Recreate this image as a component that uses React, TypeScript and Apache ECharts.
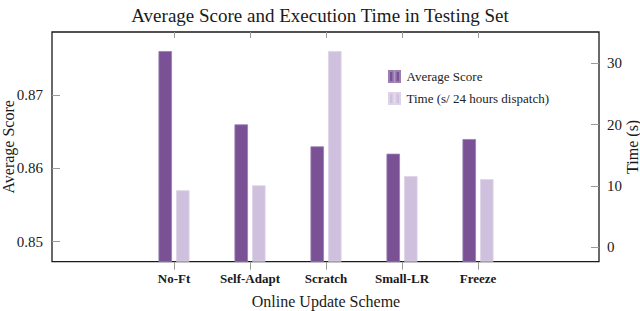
import React, { useEffect, useRef } from "react";
import * as echarts from "echarts";

const categories = ["No-Ft", "Self-Adapt", "Scratch", "Small-LR", "Freeze"];
const avgScore = [0.876, 0.866, 0.863, 0.862, 0.864];
const timeSec = [9.3, 10.1, 32.0, 11.6, 11.1];
const scoreTicks = [0.85, 0.86, 0.87];
const timeTicks = [0, 10, 20, 30];

const SERIF = "'Liberation Serif', 'DejaVu Serif', serif";
const SCORE_MIN = 0.84727;
const SCORE_MAX = 0.8786;
const TIME_MIN = -2.35;
const TIME_MAX = 35.1;

export default function App() {
  const ref = useRef<HTMLDivElement>(null);
  useEffect(() => {
    if (!ref.current) return;
    const chart = echarts.init(ref.current, null, { renderer: "svg" });
    const tickStyle = { color: "#9a9a9a", width: 1 };
    // bars of the time series rise from the bottom of the frame (pgfplots style),
    // so the hidden bar axis is the visible time axis shifted to start at its minimum
    const timeFromBottom = timeSec.map((v) => v - TIME_MIN);
    const option: any = {
      animation: false,
      backgroundColor: "#ffffff",
      textStyle: { fontFamily: SERIF },
      title: {
        text: "Average Score and Execution Time in Testing Set",
        left: "center",
        top: 1,
        textStyle: { fontFamily: SERIF, fontSize: 19, fontWeight: "normal", color: "#1a1a1a" },
      },
      legend: {
        data: ["Average Score", "Time (s/ 24 hours dispatch)"],
        orient: "vertical",
        left: 383,
        top: 65,
        itemGap: 9,
        itemWidth: 14,
        itemHeight: 11,
        icon: "path://M0,0h4v10h-4z M6,0h4v10h-4z",
        textStyle: { fontFamily: SERIF, fontSize: 13, color: "#222" },
      },
      grid: [
        { left: 52, top: 32, width: 547, height: 229.7, show: true, borderColor: "#1a1a1a", borderWidth: 1.3, backgroundColor: "transparent", outerBoundsMode: "none", containLabel: false },
        { left: 136, top: 32, width: 380, height: 229.7, outerBoundsMode: "none", containLabel: false },
      ],
      xAxis: [
        { type: "value", gridIndex: 0, min: 0, max: 1, show: false },
        {
          type: "category",
          gridIndex: 1,
          data: categories,
          position: "bottom",
          axisLine: { show: false },
          axisTick: { show: true, alignWithLabel: true, inside: false, length: 8, lineStyle: tickStyle },
          axisLabel: { interval: 0, fontFamily: SERIF, fontSize: 13, fontWeight: "bold", color: "#1a1a1a", margin: 10 },
          name: "Online Update Scheme",
          nameLocation: "middle",
          nameGap: 32,
          nameMoveOverlap: false,
          nameTextStyle: { fontFamily: SERIF, fontSize: 16, color: "#1a1a1a" },
        },
        {
          type: "category",
          gridIndex: 1,
          data: categories,
          position: "top",
          axisLine: { show: false },
          axisTick: { show: true, alignWithLabel: true, inside: true, length: 6, lineStyle: tickStyle },
          axisLabel: { show: false },
        },
      ],
      yAxis: [
        {
          type: "value",
          gridIndex: 0,
          position: "left",
          min: SCORE_MIN,
          max: SCORE_MAX,
          splitLine: { show: false },
          axisLine: { show: false },
          axisTick: { show: true, inside: true, length: 8, lineStyle: tickStyle, customValues: scoreTicks },
          axisLabel: {
            customValues: scoreTicks,
            formatter: (v: number) => v.toFixed(2),
            fontFamily: SERIF,
            fontSize: 15,
            color: "#1a1a1a",
            margin: 9,
            padding: [0, 0, 9, 0],
          },
          name: "Average Score",
          nameLocation: "middle",
          nameGap: 36,
          nameMoveOverlap: false,
          nameTextStyle: { fontFamily: SERIF, fontSize: 16, lineHeight: 15, color: "#1a1a1a" },
        },
        {
          type: "value",
          gridIndex: 0,
          position: "right",
          min: TIME_MIN,
          max: TIME_MAX,
          splitLine: { show: false },
          axisLine: { show: false },
          axisTick: { show: true, inside: true, length: 8, lineStyle: tickStyle, customValues: timeTicks },
          axisLabel: {
            customValues: timeTicks,
            fontFamily: SERIF,
            fontSize: 15,
            color: "#1a1a1a",
            margin: 8,
            padding: [0, 0, 9, 0],
          },
          name: "Time (s)",
          nameLocation: "middle",
          nameGap: 26,
          nameMoveOverlap: false,
          nameTextStyle: { fontFamily: SERIF, fontSize: 16, lineHeight: 15, color: "#1a1a1a" },
        },
        { type: "value", gridIndex: 1, min: SCORE_MIN, max: SCORE_MAX, show: false, splitLine: { show: false } },
        { type: "value", gridIndex: 1, min: 0, max: TIME_MAX - TIME_MIN, show: false, splitLine: { show: false } },
      ],
      series: [
        {
          name: "Average Score",
          type: "bar",
          xAxisIndex: 1,
          yAxisIndex: 2,
          data: avgScore,
          barWidth: 13.5,
          barGap: "30%",
          itemStyle: { color: "#7a5195", borderColor: "#9b7fb1", borderWidth: 0.8 },
        },
        {
          name: "Time (s/ 24 hours dispatch)",
          type: "bar",
          xAxisIndex: 1,
          yAxisIndex: 3,
          data: timeFromBottom,
          barWidth: 13.5,
          barGap: "30%",
          itemStyle: { color: "#cfc1dd", borderColor: "#ddd3e8", borderWidth: 0.8 },
        },
      ],
    };
    chart.setOption(option);
    return () => chart.dispose();
  }, []);
  return (
    <div
      ref={ref}
      style={{ position: "fixed", left: 0, top: 0, width: 640, height: 311, background: "#fff" }}
    />
  );
}
